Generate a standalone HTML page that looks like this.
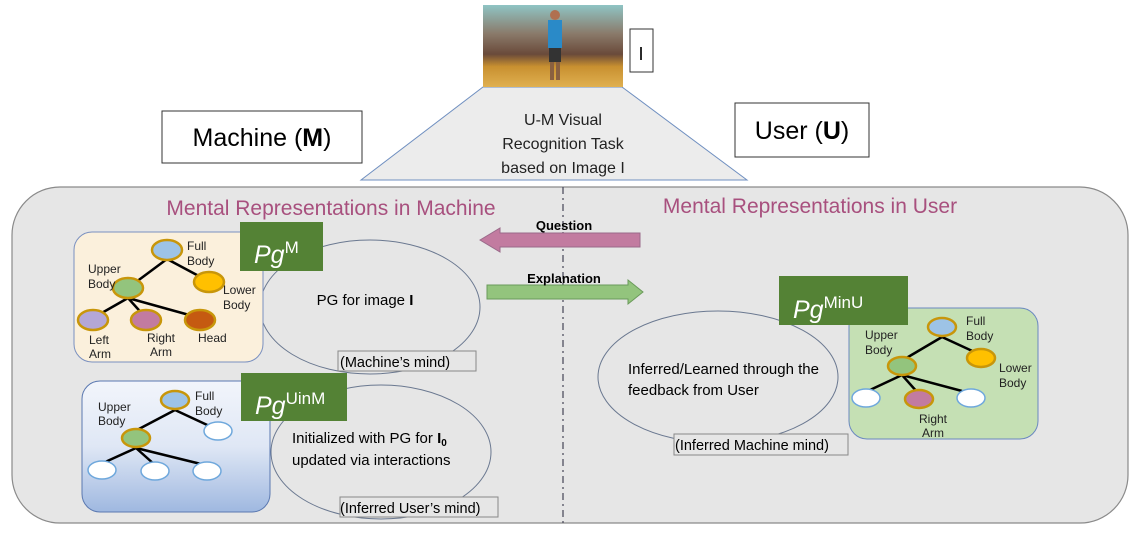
<!DOCTYPE html>
<html><head><meta charset="utf-8"><style>
html,body{margin:0;padding:0;background:#fff;}
svg{display:block;font-family:"Liberation Sans",sans-serif;}
</style></head><body>
<svg width="1136" height="538" viewBox="0 0 1136 538" xmlns="http://www.w3.org/2000/svg">
<defs>
<linearGradient id="sky" x1="0" y1="0" x2="0" y2="1">
<stop offset="0" stop-color="#8fc4c4"/><stop offset="0.35" stop-color="#8a7a6a"/><stop offset="0.6" stop-color="#6a4a3a"/><stop offset="0.75" stop-color="#c89030"/><stop offset="1" stop-color="#e0b050"/>
</linearGradient>
<linearGradient id="blue" x1="0" y1="0" x2="0" y2="1">
<stop offset="0" stop-color="#f2f5fb"/><stop offset="0.5" stop-color="#dfe7f5"/><stop offset="1" stop-color="#9fb8e0"/>
</linearGradient>
</defs>
<polygon points="483,87 622,87 747,180 361,180" fill="#ececec" stroke="#6f8fc0" stroke-width="1"/>
<text x="563" y="125" font-size="16" text-anchor="middle" fill="#222">U-M Visual</text>
<text x="563" y="149" font-size="16" text-anchor="middle" fill="#222">Recognition Task</text>
<text x="563" y="173" font-size="16" text-anchor="middle" fill="#222">based on Image I</text>
<rect x="483" y="5" width="140" height="82" fill="url(#sky)"/>
<rect x="548" y="20" width="14" height="28" fill="#2a8ac8"/>
<rect x="549" y="48" width="12" height="14" fill="#333"/>
<rect x="550" y="62" width="4" height="18" fill="#8a6040"/><rect x="556" y="62" width="4" height="18" fill="#8a6040"/>
<circle cx="555" cy="15" r="5" fill="#b07050"/>
<rect x="630" y="29" width="23" height="43" fill="#fff" stroke="#333"/>
<text x="641" y="60" font-size="18" text-anchor="middle">I</text>
<rect x="162" y="111" width="200" height="52" fill="#fff" stroke="#333"/>
<text x="262" y="146" font-size="25" text-anchor="middle">Machine (<tspan font-weight="bold">M</tspan>)</text>
<rect x="735" y="103" width="134" height="54" fill="#fff" stroke="#333"/>
<text x="802" y="139" font-size="25" text-anchor="middle">User (<tspan font-weight="bold">U</tspan>)</text>
<rect x="12" y="187" width="1116" height="336" rx="48" fill="#e6e6e6" stroke="#8a8a8a" stroke-width="1.2"/>
<line x1="563" y1="187" x2="563" y2="523" stroke="#445" stroke-width="1.2" stroke-dasharray="7,4,2,4"/>
<text x="331" y="215" font-size="21" text-anchor="middle" fill="#a8507e">Mental Representations in Machine</text>
<text x="810" y="213" font-size="21" text-anchor="middle" fill="#a8507e">Mental Representations in User</text>
<polygon points="480,240 500,228 500,233 640,233 640,247 500,247 500,252" fill="#c27ba0" stroke="#9a6a8a"/>
<text x="564" y="230" font-size="13" font-weight="bold" text-anchor="middle">Question</text>
<polygon points="487,285 628,285 628,280 643,292 628,304 628,299 487,299" fill="#93c47d" stroke="#6a9a5a"/>
<text x="564" y="283" font-size="13" font-weight="bold" text-anchor="middle">Explanation</text>
<ellipse cx="370" cy="307" rx="110" ry="67" fill="#e6e6e6" stroke="#6a7890"/>
<rect x="338" y="351" width="138" height="20" fill="#e6e6e6" stroke="#888"/>
<text x="340" y="367" font-size="14.5">(Machine’s mind)</text>
<text x="365" y="305" font-size="15" text-anchor="middle">PG for image <tspan font-weight="bold">I</tspan></text>
<ellipse cx="381" cy="452" rx="110" ry="67" fill="#e6e6e6" stroke="#6a7890"/>
<rect x="340" y="497" width="158" height="20" fill="#e6e6e6" stroke="#888"/>
<text x="340" y="513" font-size="14.5">(Inferred User’s mind)</text>
<text x="292" y="443" font-size="15">Initialized with PG for <tspan font-weight="bold">I<tspan font-size="10" dy="3">0</tspan></tspan></text>
<text x="292" y="465" font-size="15">updated via  interactions</text>
<ellipse cx="718" cy="377" rx="120" ry="66" fill="#e6e6e6" stroke="#6a7890"/>
<rect x="674" y="434" width="174" height="21" fill="#e6e6e6" stroke="#888"/>
<text x="675" y="450" font-size="14.5">(Inferred Machine mind)</text>
<text x="628" y="374" font-size="15">Inferred/Learned through the</text>
<text x="628" y="395" font-size="15">feedback from User</text>
<rect x="74" y="232" width="189" height="130" rx="18" fill="#fbf0dc" stroke="#7a90c0"/>
<g stroke="#000" stroke-width="2.5">
<line x1="167" y1="259" x2="128" y2="288"/><line x1="167" y1="259" x2="210" y2="282"/>
<line x1="128" y1="298" x2="93" y2="318"/><line x1="128" y1="298" x2="146" y2="318"/><line x1="128" y1="298" x2="200" y2="318"/>
</g>
<g stroke="#c8960a" stroke-width="2.5">
<ellipse cx="167" cy="250" rx="15" ry="10" fill="#9dc3e6"/>
<ellipse cx="209" cy="282" rx="15" ry="10" fill="#ffc000"/>
<ellipse cx="128" cy="288" rx="15" ry="10" fill="#93c47d"/>
<ellipse cx="93" cy="320" rx="15" ry="10" fill="#b4a7d6"/>
<ellipse cx="146" cy="320" rx="15" ry="10" fill="#c27ba0"/>
<ellipse cx="200" cy="320" rx="15" ry="10" fill="#c55a11"/>
</g>
<g font-size="12" fill="#222">
<text x="187" y="250">Full</text><text x="187" y="265">Body</text>
<text x="88" y="273">Upper</text><text x="88" y="288">Body</text>
<text x="223" y="294">Lower</text><text x="223" y="309">Body</text>
<text x="89" y="344">Left</text><text x="89" y="358">Arm</text>
<text x="147" y="342">Right</text><text x="150" y="356">Arm</text>
<text x="198" y="342">Head</text>
</g>
<rect x="240" y="222" width="83" height="49" fill="#548235"/>
<text x="254" y="263" font-size="25" font-style="italic" fill="#fff">Pg<tspan font-style="normal" font-size="17" dy="-10">M</tspan></text>
<rect x="82" y="381" width="188" height="131" rx="18" fill="url(#blue)" stroke="#5a78b0"/>
<g stroke="#000" stroke-width="2.5">
<line x1="175" y1="410" x2="137" y2="430"/><line x1="175" y1="410" x2="218" y2="430"/>
<line x1="136" y1="448" x2="103" y2="463"/><line x1="136" y1="448" x2="155" y2="465"/><line x1="136" y1="448" x2="205" y2="465"/>
</g>
<ellipse cx="175" cy="400" rx="14" ry="9" fill="#9dc3e6" stroke="#c8960a" stroke-width="2.5"/>
<ellipse cx="136" cy="438" rx="14" ry="9" fill="#93c47d" stroke="#c8960a" stroke-width="2.5"/>
<g fill="#fff" stroke="#6fa8dc" stroke-width="1.5">
<ellipse cx="218" cy="431" rx="14" ry="9"/>
<ellipse cx="102" cy="470" rx="14" ry="9"/>
<ellipse cx="155" cy="471" rx="14" ry="9"/>
<ellipse cx="207" cy="471" rx="14" ry="9"/>
</g>
<g font-size="12" fill="#222">
<text x="195" y="400">Full</text><text x="195" y="415">Body</text>
<text x="98" y="411">Upper</text><text x="98" y="425">Body</text>
</g>
<rect x="241" y="373" width="106" height="48" fill="#548235"/>
<text x="255" y="414" font-size="25" font-style="italic" fill="#fff">Pg<tspan font-style="normal" font-size="17" dy="-10">UinM</tspan></text>
<rect x="849" y="308" width="189" height="131" rx="18" fill="#c5e0b4" stroke="#6a88c0"/>
<g stroke="#000" stroke-width="2.5">
<line x1="942" y1="337" x2="903" y2="360"/><line x1="942" y1="337" x2="981" y2="355"/>
<line x1="902" y1="375" x2="870" y2="390"/><line x1="902" y1="375" x2="918" y2="393"/><line x1="902" y1="375" x2="962" y2="391"/>
</g>
<g stroke="#c8960a" stroke-width="2.5">
<ellipse cx="942" cy="327" rx="14" ry="9" fill="#9dc3e6"/>
<ellipse cx="981" cy="358" rx="14" ry="9" fill="#ffc000"/>
<ellipse cx="902" cy="366" rx="14" ry="9" fill="#93c47d"/>
<ellipse cx="919" cy="399" rx="14" ry="9" fill="#c27ba0"/>
</g>
<g fill="#fff" stroke="#6fa8dc" stroke-width="1.5">
<ellipse cx="866" cy="398" rx="14" ry="9"/>
<ellipse cx="971" cy="398" rx="14" ry="9"/>
</g>
<g font-size="12" fill="#222">
<text x="966" y="325">Full</text><text x="966" y="340">Body</text>
<text x="865" y="339">Upper</text><text x="865" y="354">Body</text>
<text x="999" y="372">Lower</text><text x="999" y="387">Body</text>
<text x="919" y="423">Right</text><text x="922" y="437">Arm</text>
</g>
<rect x="779" y="276" width="129" height="49" fill="#548235"/>
<text x="793" y="318" font-size="25" font-style="italic" fill="#fff">Pg<tspan font-style="normal" font-size="17" dy="-10">MinU</tspan></text>
</svg>
</body></html>
